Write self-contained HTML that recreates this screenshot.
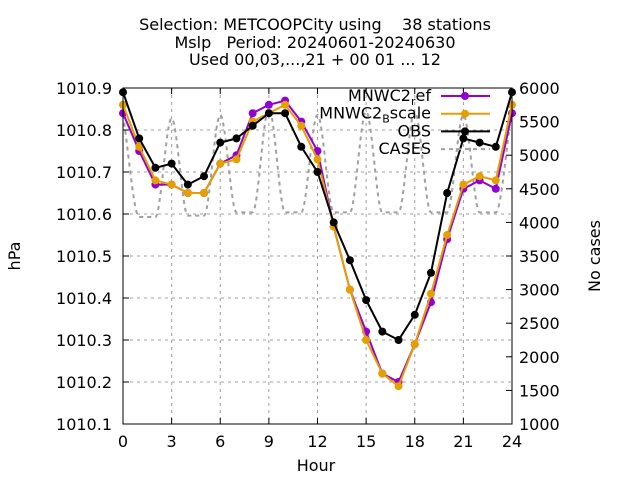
<!DOCTYPE html>
<html><head><meta charset="utf-8"><style>
body{margin:0;background:#fff}
svg{font-family:"DejaVu Sans","Liberation Sans",sans-serif}
</style></head><body>
<svg id="c" width="640" height="480"></svg>
<script>
const hours=[0,1,2,3,4,5,6,7,8,9,10,11,12,13,14,15,16,17,18,19,20,21,22,23,24];
const obs=[1010.89,1010.78,1010.71,1010.72,1010.67,1010.69,1010.77,1010.78,1010.81,1010.84,1010.84,1010.76,1010.70,1010.58,1010.49,1010.395,1010.32,1010.30,1010.36,1010.46,1010.65,1010.78,1010.77,1010.76,1010.89];
const mnwcRef=[1010.84,1010.75,1010.67,1010.67,1010.65,1010.65,1010.72,1010.74,1010.84,1010.86,1010.87,1010.82,1010.75,1010.57,1010.42,1010.32,1010.22,1010.20,1010.29,1010.39,1010.54,1010.66,1010.68,1010.66,1010.84];
const mnwcB=[1010.86,1010.76,1010.68,1010.67,1010.65,1010.65,1010.72,1010.73,1010.82,1010.84,1010.86,1010.81,1010.73,1010.57,1010.42,1010.30,1010.22,1010.19,1010.29,1010.41,1010.55,1010.67,1010.69,1010.68,1010.86];
const cases=[5600,4080,4080,5550,4100,4100,5600,4150,4150,5700,4150,4150,5600,4150,4150,5650,4150,4150,5650,4150,4150,5600,4150,4150,5700];
const yTicks=[1010.1,1010.2,1010.3,1010.4,1010.5,1010.6,1010.7,1010.8,1010.9];
const y2Ticks=[1000,1500,2000,2500,3000,3500,4000,4500,5000,5500,6000];
const xTicks=[0,3,6,9,12,15,18,21,24];
const L=123,R=512,T=88,B=424;
const X=h=>L+(h-0)/24*(R-L);
const Y=v=>B-(v-1010.1)/0.8*(B-T);
const Y2=v=>B-(v-1000)/5000*(B-T);
const s=document.getElementById('c');
const NS='http://www.w3.org/2000/svg';
function mk(t,a,p){const e=document.createElementNS(NS,t);for(const k in a)e.setAttribute(k,a[k]);(p||s).appendChild(e);return e;}
function txt(x,y,str,anchor,extra){const e=mk('text',Object.assign({x:x,y:y,'font-size':16,'text-anchor':anchor||'middle',fill:'#000'},extra||{}));e.textContent=str;return e;}
xTicks.forEach(h=>{if(h>0&&h<24){const g=mk('line',{x1:X(h),x2:X(h),y1:T,y2:B,stroke:'#a0a0a0','stroke-dasharray':'3,4'});

}
const t=txt(X(h),447,String(h));


mk('line',{x1:X(h),x2:X(h),y1:B,y2:B-6,stroke:'#000'});mk('line',{x1:X(h),x2:X(h),y1:T,y2:T+6,stroke:'#000'});});
yTicks.forEach(v=>{const y=Y(v);if(v>1010.1&&v<1010.9){const g=mk('line',{x1:L,x2:R,y1:y,y2:y,stroke:'#a0a0a0','stroke-dasharray':'3,4'});

}
mk('line',{x1:L,x2:L+6,y1:y,y2:y,stroke:'#000'});
const t=txt(112,y+6,v.toFixed(1),'end');

});
y2Ticks.forEach(v=>{const y=Y2(v);mk('line',{x1:R,x2:R-6,y1:y,y2:y,stroke:'#000'});
const t=txt(519,y+6,String(v),'start');

});
// cases curve (monotone cubic)
(function(){const p=hours.map((h,i)=>[X(h),Y2(cases[i])]);const n=p.length;
const dx=[],dy=[],m=[];for(let i=0;i<n-1;i++){dx.push(p[i+1][0]-p[i][0]);dy.push(p[i+1][1]-p[i][1]);m.push(dy[i]/dx[i]);}
const t=[m[0]];for(let i=1;i<n-1;i++){t.push(m[i-1]*m[i]<=0?0:(m[i-1]+m[i])/2);}t.push(m[n-2]);
for(let i=0;i<n-1;i++){if(m[i]===0){t[i]=0;t[i+1]=0;continue;}const a=t[i]/m[i],b=t[i+1]/m[i],q=a*a+b*b;if(q>9){const k=3/Math.sqrt(q);t[i]=k*a*m[i];t[i+1]=k*b*m[i];}}
let d='M'+p[0][0]+','+p[0][1];
for(let i=0;i<n-1;i++){const h=dx[i]/3;d+=` C${p[i][0]+h},${p[i][1]+t[i]*h} ${p[i+1][0]-h},${p[i+1][1]-t[i+1]*h} ${p[i+1][0]},${p[i+1][1]}`;}
const e=mk('path',{d:d,fill:'none',stroke:'#a0a0a0','stroke-width':2,'stroke-dasharray':'4,4'});

})();
function series(vals,col,name){const pts=hours.map((h,i)=>X(h)+','+Y(vals[i])).join(' ');
const e=mk('polyline',{points:pts,fill:'none',stroke:col,'stroke-width':2});


hours.forEach((h,i)=>{const c=mk('circle',{cx:X(h),cy:Y(vals[i]),r:4,fill:col});

});}
series(mnwcRef,'#9400d3','mnwc2-ref');
series(mnwcB,'#e69f00','mnwc2-bscale');
series(obs,'#000','obs');
mk('rect',{x:L,y:T,width:R-L,height:B-T,fill:'none',stroke:'#000','stroke-width':1});
const leg=[['MNWC2','r','ef','#9400d3',false],['MNWC2','B','scale','#e69f00',false],['OBS','','','#000',false],['CASES','','','#a0a0a0',true]];
leg.forEach((l,i)=>{const y=96+i*17.7;
const t=mk('text',{x:431,y:y+5,'font-size':16,'text-anchor':'end',fill:'#000'});


t.appendChild(document.createTextNode(l[0]));
if(l[1]){const a=mk('tspan',{'font-size':11,dy:4},t);a.textContent=l[1];const b=mk('tspan',{dy:-4},t);b.textContent=l[2];}
const ln=mk('line',{x1:441,x2:490,y1:y,y2:y,stroke:l[3],'stroke-width':2});
if(l[4])ln.setAttribute('stroke-dasharray','4,4');else mk('circle',{cx:465,cy:y,r:4,fill:l[3]});

});
[['Selection: METCOOPCity using    38 stations',30],['Mslp   Period: 20240601-20240630',48],['Used 00,03,...,21 + 00 01 ... 12',65]].forEach(a=>{const t=txt(315,a[1],a[0]);t.style.whiteSpace='pre';

});
const xl=txt(316,471,'Hour');
const yl=txt(20,256,'hPa','middle',{transform:'rotate(-90 20 256)'});
const y2l=txt(600,256,'No cases','middle',{transform:'rotate(-90 600 256)'});
</script>
</body></html>
